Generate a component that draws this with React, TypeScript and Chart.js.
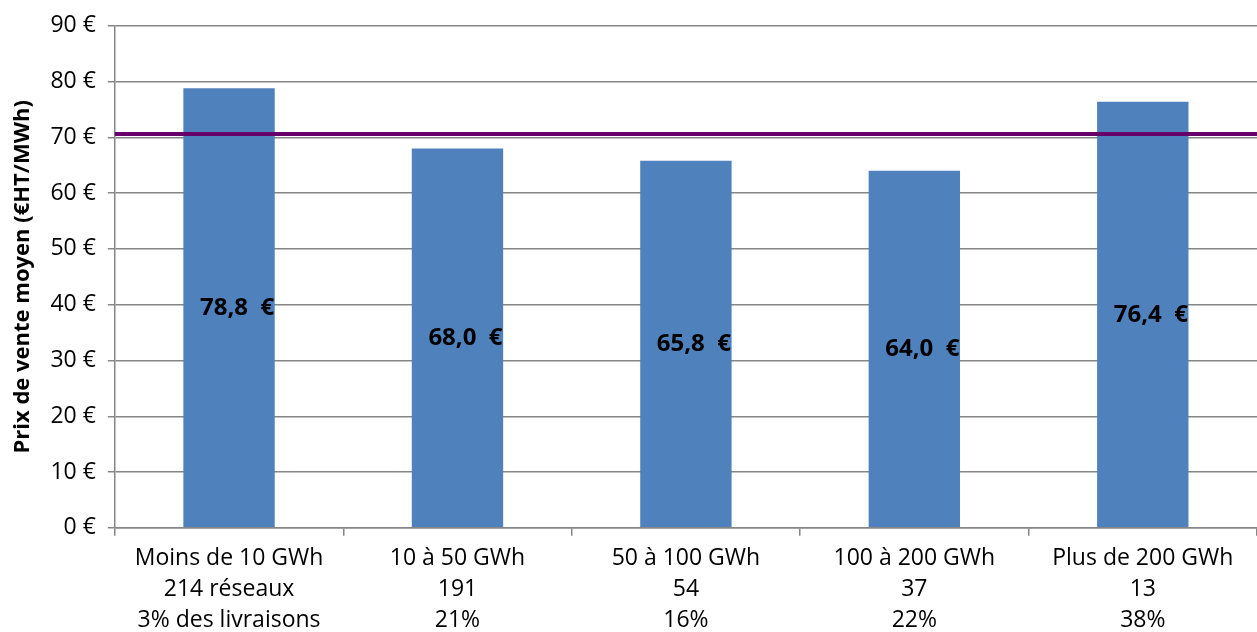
import React, { useEffect, useRef } from "react";
import { Chart, registerables } from "chart.js";

Chart.register(...registerables);

const categories: string[][] = [
  ["Moins de 10 GWh", "214 réseaux", "3% des livraisons"],
  ["10 à 50 GWh", "191", "21%"],
  ["50 à 100 GWh", "54", "16%"],
  ["100 à 200 GWh", "37", "22%"],
  ["Plus de 200 GWh", "13", "38%"],
];
const prices: number[] = [78.8, 68.0, 65.8, 64.0, 76.4];
const averagePrice = 70.6;
const yTitle = "Prix de vente moyen (€HT/MWh)";

const FONT = "'Open Sans', 'Noto Sans', sans-serif";

const refLinePlugin = {
  id: "refLine",
  afterDatasetsDraw(chart: any) {
    const { ctx, chartArea, scales } = chart;
    const y = scales.y.getPixelForValue(averagePrice);
    ctx.save();
    ctx.strokeStyle = "#66006A";
    ctx.lineWidth = 4;
    ctx.beginPath();
    ctx.moveTo(chartArea.left, y);
    ctx.lineTo(chartArea.right, y);
    ctx.stroke();
    // data labels
    const meta = chart.getDatasetMeta(0);
    ctx.fillStyle = "#000";
    ctx.font = `bold 24px ${FONT}`;
    ctx.textAlign = "center";
    ctx.textBaseline = "middle";
    meta.data.forEach((bar: any, i: number) => {
      const v = prices[i];
      const yMid = scales.y.getPixelForValue(v / 2);
      const txt = v.toFixed(1).replace(".", ",") + "  €";
      ctx.fillText(txt, bar.x + 8, yMid);
    });
    ctx.restore();
  },
};

export default function App() {
  const ref = useRef<HTMLCanvasElement>(null);
  useEffect(() => {
    const chart = new Chart(ref.current!, {
      type: "bar",
      data: {
        labels: categories,
        datasets: [
          {
            data: prices,
            backgroundColor: "#4F81BD",
            categoryPercentage: 0.8,
            barPercentage: 0.5,
          },
        ],
      },
      options: {
        animation: false,
        responsive: false,
        layout: { padding: { top: 19, right: 0, left: 8, bottom: 0 } },
        plugins: { legend: { display: false }, tooltip: { enabled: false } },
        scales: {
          x: {
            grid: {
              display: true,
              drawOnChartArea: false,
              offset: true,
              tickLength: 8,
              color: "#868686",
              lineWidth: 1.5,
            },
            border: { color: "#868686", width: 1.5 },
            ticks: {
              color: "#000",
              font: { family: FONT, size: 23, lineHeight: 1.35 },
              padding: 7,
              maxRotation: 0,
            },
          },
          y: {
            min: 0,
            max: 90,
            grid: { color: "#868686", lineWidth: 1.5, tickLength: 7 },
            border: { color: "#868686", width: 1.5 },
            ticks: {
              stepSize: 10,
              color: "#000",
              font: { family: FONT, size: 23 },
              padding: 12,
              callback: (v: any) => `${v} €`,
            },
            title: {
              display: true,
              text: yTitle,
              color: "#000",
              font: { family: FONT, size: 22, weight: "bold" },
              padding: 2,
            },
          },
        },
      },
      plugins: [refLinePlugin],
    });
    return () => chart.destroy();
  }, []);
  return (
    <div style={{ position: "fixed", left: 0, top: 0, width: 1257, height: 632, overflow: "hidden" }}>
      <canvas ref={ref} width={1257} height={643} style={{ display: "block" }} />
    </div>
  );
}
